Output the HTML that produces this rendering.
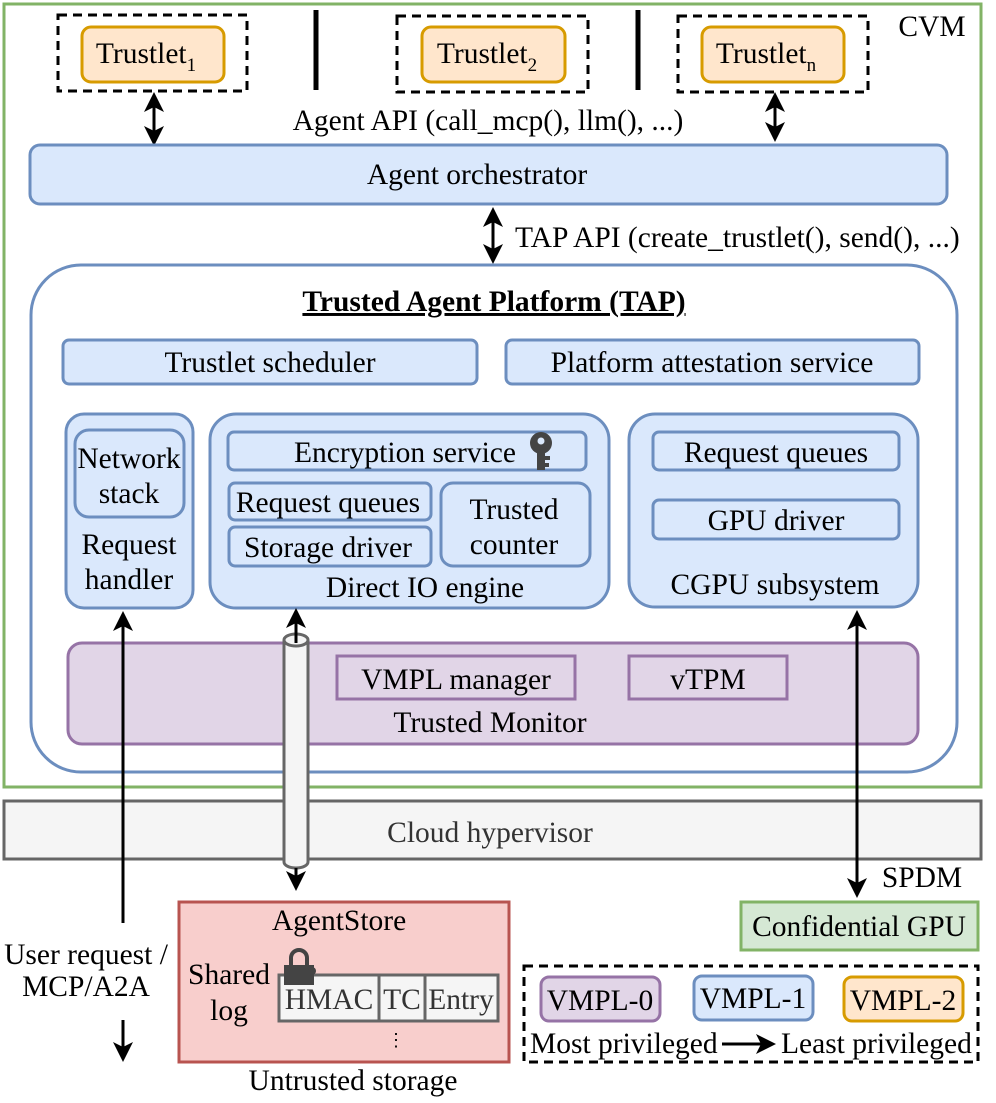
<!DOCTYPE html>
<html><head><meta charset="utf-8"><style>
html,body{margin:0;padding:0;background:#fff}
svg{display:block}
text{font-family:"Liberation Serif",serif;fill:#000}
</style></head><body>
<svg width="996" height="1103" viewBox="0 0 996 1103" xmlns="http://www.w3.org/2000/svg">
<style>
.bl{fill:#dae8fc;stroke:#6c8ebf;stroke-width:3}
.pu{fill:#e1d5e7;stroke:#9673a6;stroke-width:3}
.or{fill:#ffe6cc;stroke:#d79b00;stroke-width:3}
.t{font-size:29.5px;text-anchor:middle}
.l{font-size:29.5px}
</style>
<!-- CVM -->
<rect x="4" y="4" width="977" height="783" fill="#fff" stroke="#82b366" stroke-width="3"/>
<text x="932" y="36" class="t">CVM</text>
<!-- trustlets -->
<rect x="58" y="15" width="189" height="76" fill="none" stroke="#000" stroke-width="3" stroke-dasharray="9,6"/>
<rect x="82" y="27" width="142" height="55" rx="9" class="or"/>
<text x="146" y="63" class="t">Trustlet<tspan font-size="19" dy="8">1</tspan></text>
<rect x="397" y="16" width="191" height="76" fill="none" stroke="#000" stroke-width="3" stroke-dasharray="9,6"/>
<rect x="422" y="27" width="143" height="55" rx="9" class="or"/>
<text x="487" y="63" class="t">Trustlet<tspan font-size="19" dy="8">2</tspan></text>
<rect x="678" y="16" width="190" height="76" fill="none" stroke="#000" stroke-width="3" stroke-dasharray="9,6"/>
<rect x="702" y="27" width="142" height="55" rx="9" class="or"/>
<text x="766" y="63" class="t">Trustlet<tspan font-size="19" dy="8">n</tspan></text>
<line x1="316" y1="10" x2="316" y2="90" stroke="#000" stroke-width="5"/>
<line x1="638" y1="10" x2="638" y2="90" stroke="#000" stroke-width="5"/>
<text x="488" y="130" class="t">Agent API (call_mcp(), llm(), ...)</text>
<g stroke="#000" stroke-width="3" fill="#000">
<line x1="154" y1="100" x2="154" y2="138"/>
<line x1="775" y1="100" x2="775" y2="134"/>
<line x1="493" y1="215" x2="493" y2="256"/>
</g>
<g fill="#000">
<path d="M154 92 l-10 20 l10 -5 l10 5z"/><path d="M154 146 l-10 -20 l10 5 l10 -5z"/>
<path d="M775 92 l-10 20 l10 -5 l10 5z"/><path d="M775 142 l-10 -20 l10 5 l10 -5z"/>
<path d="M493 207 l-10 20 l10 -5 l10 5z"/><path d="M493 264 l-10 -20 l10 5 l10 -5z"/>
</g>
<rect x="30" y="145" width="917" height="59" rx="10" class="bl"/>
<text x="477" y="184" class="t">Agent orchestrator</text>
<text x="515" y="247" class="l">TAP API (create_trustlet(), send(), ...)</text>
<!-- TAP -->
<rect x="31" y="265" width="926" height="507" rx="50" fill="#fff" stroke="#6c8ebf" stroke-width="3"/>
<text x="494" y="311" class="t" font-weight="bold" text-decoration="underline">Trusted Agent Platform (TAP)</text>
<rect x="63" y="340" width="414" height="44" rx="6" class="bl"/>
<text x="270" y="372" class="t">Trustlet scheduler</text>
<rect x="506" y="340" width="413" height="44" rx="6" class="bl"/>
<text x="712" y="372" class="t">Platform attestation service</text>
<!-- request handler -->
<rect x="66" y="414" width="127" height="194" rx="18" class="bl"/>
<rect x="75" y="430" width="109" height="87" rx="14" class="bl"/>
<text x="129" y="468" class="t">Network</text>
<text x="129" y="503" class="t">stack</text>
<text x="129" y="554" class="t">Request</text>
<text x="129" y="589" class="t">handler</text>
<!-- direct IO -->
<rect x="210" y="414" width="399" height="194" rx="26" class="bl"/>
<rect x="228" y="432" width="358" height="38" rx="6" class="bl"/>
<text x="405" y="462" class="t">Encryption service</text>
<g fill="#444"><circle cx="541" cy="443" r="11"/><rect x="537" y="448" width="8" height="22"/><rect x="545" y="456" width="5" height="4"/><rect x="545" y="463" width="4" height="4"/></g>
<circle cx="541" cy="441" r="3.5" fill="#dae8fc"/>
<rect x="229" y="483" width="202" height="37" rx="6" class="bl"/>
<text x="328" y="512" class="t">Request queues</text>
<rect x="229" y="527" width="202" height="39" rx="6" class="bl"/>
<text x="328" y="557" class="t">Storage driver</text>
<rect x="441" y="483" width="149" height="83" rx="12" class="bl"/>
<text x="514" y="519" class="t">Trusted</text>
<text x="514" y="554" class="t">counter</text>
<text x="425" y="597" class="t">Direct IO engine</text>
<!-- CGPU -->
<rect x="629" y="414" width="289" height="193" rx="26" class="bl"/>
<rect x="653" y="432" width="246" height="38" rx="6" class="bl"/>
<text x="776" y="462" class="t">Request queues</text>
<rect x="653" y="500" width="246" height="39" rx="6" class="bl"/>
<text x="776" y="530" class="t">GPU driver</text>
<text x="775" y="594" class="t">CGPU subsystem</text>
<!-- trusted monitor -->
<rect x="68" y="643" width="850" height="101" rx="14" class="pu"/>
<rect x="337" y="656" width="238" height="43" class="pu"/>
<text x="456" y="689" class="t">VMPL manager</text>
<rect x="629" y="656" width="158" height="43" class="pu"/>
<text x="708" y="689" class="t">vTPM</text>
<text x="490" y="732" class="t">Trusted Monitor</text>
<!-- hypervisor -->
<rect x="4" y="801" width="977" height="58" fill="#f5f5f5" stroke="#666" stroke-width="3"/>
<text x="490" y="842" class="t" style="fill:#333">Cloud hypervisor</text>
<!-- cylinder -->
<path d="M284 640 L284 862 A12 6 0 0 0 308 862 L308 640" fill="#f5f5f5" stroke="#666" stroke-width="3"/>
<ellipse cx="296" cy="640" rx="12" ry="6" fill="#f5f5f5" stroke="#666" stroke-width="3"/>
<g stroke="#000" stroke-width="3">
<line x1="296" y1="618" x2="296" y2="643"/>
<line x1="296" y1="868" x2="296" y2="880"/>
<line x1="123" y1="620" x2="123" y2="923"/>
<line x1="123" y1="1020" x2="123" y2="1050"/>
<line x1="857" y1="620" x2="857" y2="888"/>
<line x1="722" y1="1044" x2="762" y2="1044"/>
</g>
<g fill="#000">
<path d="M296 608 l-10 20 l10 -5 l10 5z"/><path d="M296 891 l-10 -20 l10 5 l10 -5z"/>
<path d="M123 611 l-10 20 l10 -5 l10 5z"/>
<path d="M123 1062 l-10 -20 l10 5 l10 -5z"/>
<path d="M857 610 l-10 20 l10 -5 l10 5z"/><path d="M857 898 l-10 -20 l10 5 l10 -5z"/>
<path d="M776 1044 l-20 -10 l5 10 l-5 10z"/>
</g>
<text x="922" y="887" class="t">SPDM</text>
<rect x="741" y="902" width="237" height="48" fill="#d5e8d4" stroke="#82b366" stroke-width="3"/>
<text x="859" y="936" class="t">Confidential GPU</text>
<text x="86" y="964" class="t">User request /</text>
<text x="86" y="996" class="t">MCP/A2A</text>
<!-- AgentStore -->
<rect x="179" y="902" width="330" height="160" fill="#f8cecc" stroke="#b85450" stroke-width="3"/>
<text x="339" y="930" class="t">AgentStore</text>
<text x="229" y="984" class="t">Shared</text>
<text x="229" y="1020" class="t">log</text>
<rect x="279" y="975" width="219" height="46" fill="#f5f5f5" stroke="#666" stroke-width="3"/>
<line x1="379" y1="975" x2="379" y2="1021" stroke="#666" stroke-width="3"/>
<line x1="425" y1="975" x2="425" y2="1021" stroke="#666" stroke-width="3"/>
<text x="329" y="1009" class="t" style="fill:#333">HMAC</text>
<text x="402" y="1009" class="t" style="fill:#333">TC</text>
<text x="461" y="1009" class="t" style="fill:#333">Entry</text>
<path d="M291 966 L291 958 A8 8 0 0 1 307 958 L307 966" fill="none" stroke="#444" stroke-width="4"/>
<rect x="284" y="965" width="30" height="20" fill="#444"/>
<circle cx="312" cy="971" r="4" fill="#444"/><rect x="310" y="973" width="3" height="10" fill="#444"/>
<text x="396" y="1046" class="t" font-size="18" style="font-size:18px">⋮</text>
<text x="353" y="1090" class="t">Untrusted storage</text>
<!-- legend -->
<rect x="524" y="966" width="454" height="96" fill="none" stroke="#000" stroke-width="3" stroke-dasharray="9,6"/>
<rect x="541" y="977" width="119" height="44" rx="8" class="pu"/>
<text x="600" y="1010" class="t">VMPL-0</text>
<rect x="694" y="976" width="119" height="44" rx="8" class="bl"/>
<text x="753" y="1008" class="t">VMPL-1</text>
<rect x="844" y="977" width="119" height="44" rx="8" class="or"/>
<text x="903" y="1010" class="t">VMPL-2</text>
<text x="530" y="1053" class="l">Most privileged</text>
<text x="781" y="1053" class="l">Least privileged</text>
</svg>
</body></html>
